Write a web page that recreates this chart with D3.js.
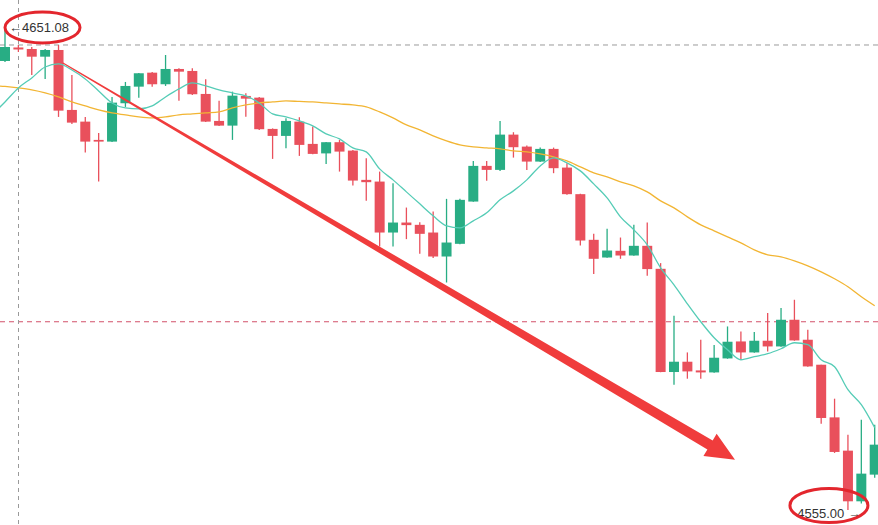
<!DOCTYPE html>
<html>
<head>
<meta charset="utf-8">
<script src="https://cdn.jsdelivr.net/npm/d3@7"></script>
<style>
html,body{margin:0;padding:0;background:#fff;}
svg{display:block;}
</style>
</head>
<body>
<svg id="chart" width="878" height="525"></svg>
<script>
// ---- data ----
const opens  = [4644.88,4647.58,4647.28,4645.74,4647.08,4635.08,4632.74,4629.08,4628.74,4636.42,4639.74,4642.54,4640.22,4643.28,4642.88,4638.28,4632.88,4631.94,4637.88,4637.54,4631.28,4629.88,4632.74,4628.28,4626.38,4628.62,4626.94,4621.08,4620.74,4610.54,4612.54,4612.08,4610.54,4605.74,4608.28,4616.74,4623.88,4623.08,4630.14,4627.74,4624.74,4627.28,4623.54,4618.22,4609.08,4605.54,4606.88,4605.94,4607.88,4603.28,4582.62,4584.68,4582.94,4582.54,4585.34,4588.74,4586.54,4588.88,4587.74,4593.08,4589.08,4584.08,4573.54,4566.88,4556.74,4562.08];
const closes = [4647.68,4647.18,4645.74,4647.08,4634.94,4632.54,4628.74,4628.74,4636.54,4639.88,4642.42,4640.22,4643.28,4642.74,4638.22,4632.74,4631.94,4637.94,4637.34,4631.22,4629.88,4632.88,4628.08,4626.28,4628.62,4626.74,4620.94,4620.62,4610.54,4612.54,4612.02,4610.28,4605.74,4608.54,4617.08,4623.88,4623.08,4630.14,4627.62,4624.74,4627.28,4623.42,4618.22,4608.94,4605.28,4606.94,4605.94,4607.88,4603.22,4582.62,4584.68,4582.74,4582.54,4585.48,4588.68,4586.54,4588.88,4587.74,4593.08,4588.94,4583.74,4573.42,4566.62,4556.74,4562.28,4568.08];
const highs  = [4651.08,4648.08,4647.68,4647.28,4648.08,4642.08,4633.68,4630.48,4637.68,4640.68,4642.48,4642.68,4646.08,4643.42,4643.42,4641.22,4636.94,4638.74,4638.42,4637.68,4631.38,4633.42,4633.62,4631.74,4628.68,4629.08,4627.08,4625.42,4622.74,4620.42,4615.54,4612.62,4614.74,4617.28,4617.28,4624.88,4624.88,4632.88,4630.62,4627.94,4627.54,4627.54,4624.42,4618.28,4610.28,4611.28,4609.54,4612.08,4612.54,4604.42,4593.88,4586.54,4589.08,4588.02,4591.74,4590.74,4590.62,4594.42,4595.42,4597.08,4591.08,4584.08,4577.28,4570.08,4573.08,4572.08];
const lows   = [4644.68,4646.68,4642.08,4641.28,4633.68,4632.28,4626.54,4620.74,4628.68,4635.68,4637.54,4639.74,4639.88,4636.94,4638.08,4632.68,4631.88,4629.08,4633.74,4631.08,4625.28,4627.42,4625.88,4626.22,4624.28,4622.74,4619.94,4616.88,4607.74,4607.74,4609.22,4606.28,4605.42,4600.54,4608.18,4616.68,4620.88,4622.88,4625.54,4623.08,4624.68,4622.42,4618.08,4607.94,4602.22,4605.48,4605.28,4605.88,4601.88,4582.58,4580.08,4581.28,4581.28,4582.48,4585.28,4585.08,4586.48,4586.74,4587.68,4588.88,4583.68,4572.28,4566.42,4555.00,4556.28,4561.48];
// moving averages, first value belongs to the bar before the first visible candle
const maFast = [4634.00,4636.68,4639.48,4641.48,4643.68,4644.28,4643.08,4641.28,4638.88,4636.48,4635.48,4635.28,4635.88,4637.68,4639.28,4640.48,4639.88,4639.08,4638.48,4637.88,4636.48,4634.28,4633.68,4632.88,4631.88,4630.28,4629.28,4627.48,4626.68,4623.28,4621.08,4618.68,4616.28,4613.88,4611.88,4611.48,4612.88,4614.48,4617.08,4618.88,4621.08,4623.88,4625.48,4624.48,4622.88,4620.28,4617.48,4613.68,4611.08,4608.08,4603.48,4600.08,4596.28,4592.68,4589.48,4587.08,4585.08,4585.68,4586.28,4587.28,4588.48,4588.08,4585.08,4583.68,4579.08,4576.08,4571.48];
const maSlow = [4639.98,4639.78,4639.48,4639.08,4638.48,4637.68,4636.68,4635.88,4635.08,4634.48,4634.08,4633.68,4633.48,4633.68,4634.08,4634.28,4634.48,4634.68,4635.48,4636.08,4636.48,4636.68,4636.88,4636.78,4636.68,4636.48,4636.28,4636.08,4635.68,4634.68,4633.48,4632.08,4631.08,4629.88,4628.88,4628.08,4627.68,4627.48,4627.28,4626.88,4626.68,4626.28,4625.68,4624.88,4623.68,4622.48,4621.68,4620.68,4619.88,4618.68,4616.88,4615.48,4613.68,4612.08,4610.88,4609.68,4608.48,4607.08,4606.08,4605.68,4604.88,4603.88,4602.68,4601.28,4599.68,4597.68,4595.88];
const maStartIndex = -1;
const priceLines = [4648.08, 4592.68];        // gray dashed, red dashed
const markerHigh = 4651.08, markerHighIndex = 0;
const markerLow  = 4555.00, markerLowIndex  = 63;
const verticalLineIndex = 1;
const arrowFrom = [4.33, 4644.48];           // [index, price]
const arrowTo   = [54.56, 4565.08];

// ---- drawing ----
const W = 878, H = 525;
const svg = d3.select('#chart');
const x = d3.scaleLinear().domain([0, 65]).range([5, 874.7]);
const y = d3.scaleLinear().domain([markerLow, markerHigh]).range([510, 30]);

const UP = '#28ad84', DOWN = '#e9505c';
const bodyW = 10;

// reference lines
svg.append('line').attr('x1',0).attr('x2',W)
  .attr('y1',y(priceLines[0])).attr('y2',y(priceLines[0]))
  .attr('stroke','#9a9a9a').attr('stroke-width',1).attr('stroke-dasharray','5,4');
svg.append('line').attr('x1',0).attr('x2',W)
  .attr('y1',y(priceLines[1])).attr('y2',y(priceLines[1]))
  .attr('stroke','#d2506a').attr('stroke-width',1).attr('stroke-dasharray','5,4');
svg.append('line').attr('x1',Math.round(x(verticalLineIndex))+0.5).attr('x2',Math.round(x(verticalLineIndex))+0.5)
  .attr('y1',0).attr('y2',H)
  .attr('stroke','#9a9a9a').attr('stroke-width',1).attr('stroke-dasharray','4,4');

// candles
const candles = d3.range(opens.length).map(i => ({i, o:opens[i], c:closes[i], h:highs[i], l:lows[i]}));
const g = svg.append('g');
const cg = g.selectAll('g.c').data(candles).join('g').attr('class','c');
cg.append('line')
  .attr('x1', d => x(d.i)).attr('x2', d => x(d.i))
  .attr('y1', d => y(d.h)).attr('y2', d => y(d.l))
  .attr('stroke', d => d.c >= d.o ? UP : DOWN).attr('stroke-width', 1.3);
cg.append('rect')
  .attr('x', d => x(d.i) - bodyW/2).attr('width', bodyW)
  .attr('y', d => y(Math.max(d.o, d.c)))
  .attr('height', d => Math.max(1.5, Math.abs(y(d.o) - y(d.c))))
  .attr('fill', d => d.c >= d.o ? UP : DOWN);

// moving averages
const lineGen = d3.line().x((d,k) => x(k + maStartIndex)).y(d => y(d)).curve(d3.curveMonotoneX);
svg.append('path').datum(maSlow).attr('d', lineGen)
  .attr('fill','none').attr('stroke','#f2b533').attr('stroke-width',1.3);
svg.append('path').datum(maFast).attr('d', lineGen)
  .attr('fill','none').attr('stroke','#55ccb6').attr('stroke-width',1.3);

// big red arrow (tapered)
(function(){
  const p0 = [x(arrowFrom[0]), y(arrowFrom[1])];
  const p1 = [x(arrowTo[0]), y(arrowTo[1])];
  const dx = p1[0]-p0[0], dy = p1[1]-p0[1];
  const len = Math.hypot(dx,dy);
  const u = [dx/len, dy/len], n = [-u[1], u[0]];
  const headL = 29, headHW = 13, w0 = 0.6, w1 = 5.2;
  const b = [p1[0]-u[0]*headL, p1[1]-u[1]*headL];
  const pts = [
    [p0[0]+n[0]*w0, p0[1]+n[1]*w0],
    [b[0]+n[0]*w1, b[1]+n[1]*w1],
    [b[0]+n[0]*headHW, b[1]+n[1]*headHW],
    p1,
    [b[0]-n[0]*headHW, b[1]-n[1]*headHW],
    [b[0]-n[0]*w1, b[1]-n[1]*w1],
    [p0[0]-n[0]*w0, p0[1]-n[1]*w0]
  ];
  svg.append('polygon').attr('points', pts.map(p=>p.join(',')).join(' '))
    .attr('fill','#f03c3c');
})();

// marker labels
svg.append('text').attr('x', x(markerHighIndex) + 4).attr('y', y(markerHigh) - 1)
  .attr('font-family','Liberation Sans, Arial, sans-serif').attr('font-size',13)
  .attr('fill','#333').attr('dominant-baseline','middle')
  .text('←4651.08');
svg.append('text').attr('x', x(markerLowIndex) + 13).attr('y', y(markerLow) + 5)
  .attr('font-family','Liberation Sans, Arial, sans-serif').attr('font-size',13)
  .attr('fill','#333').attr('dominant-baseline','middle').attr('text-anchor','end')
  .text('4555.00 →');

// red ellipses around labels
svg.append('ellipse').attr('cx', x(markerHighIndex) + 37.5).attr('cy', y(markerHigh) - 2.5)
  .attr('rx', 37.5).attr('ry', 15.5)
  .attr('fill','none').attr('stroke','#e3262d').attr('stroke-width',3);
svg.append('ellipse').attr('cx', x(markerLowIndex) - 19).attr('cy', y(markerLow) - 4.5)
  .attr('rx', 39).attr('ry', 17)
  .attr('fill','none').attr('stroke','#e3262d').attr('stroke-width',3);
</script>
</body>
</html>
